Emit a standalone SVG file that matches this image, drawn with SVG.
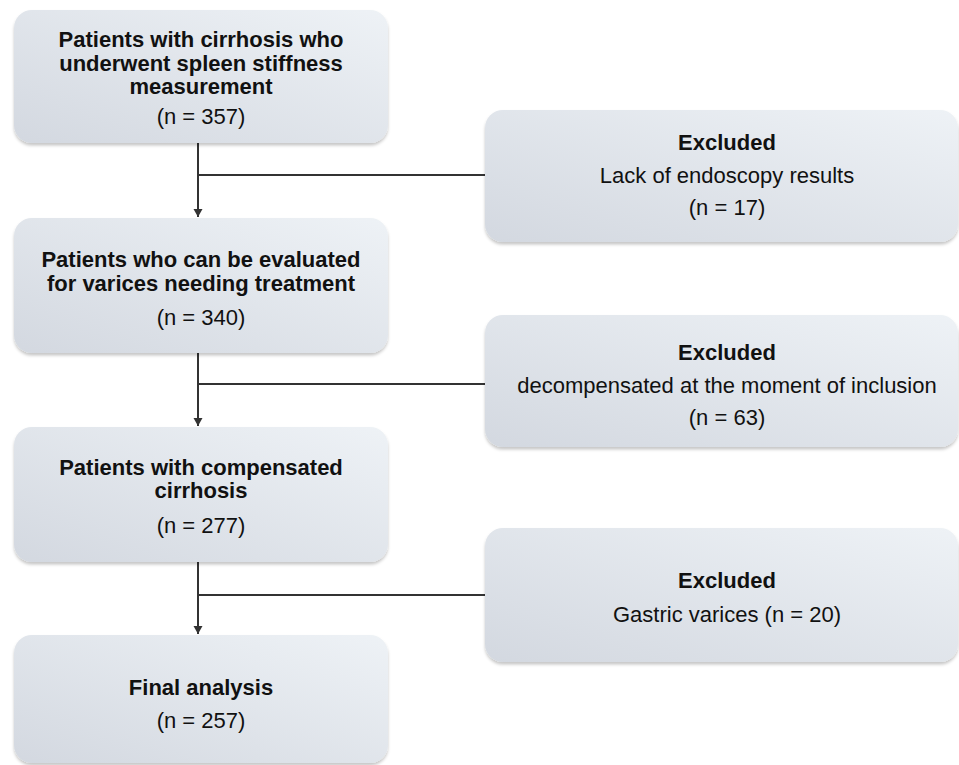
<svg xmlns="http://www.w3.org/2000/svg" width="959" height="765" viewBox="0 0 959 765">
  <defs>
    <linearGradient id="g" x1="0" y1="1" x2="1" y2="0">
      <stop offset="0" stop-color="#d3d8e0"/>
      <stop offset="1" stop-color="#eef2f6"/>
    </linearGradient>
    <filter id="sh" x="-5%" y="-5%" width="110%" height="115%">
      <feDropShadow dx="0" dy="2.5" stdDeviation="1.5" flood-color="#000" flood-opacity="0.22"/>
    </filter>
    <marker id="arr" markerWidth="10" markerHeight="10" refX="8" refY="5" orient="auto" markerUnits="userSpaceOnUse">
      <path d="M0,0.5 L8,5 L0,9.5 Z" fill="#333"/>
    </marker>
  </defs>
  <style>
    .box { fill: url(#g); filter: url(#sh); }
    .b { font-family: "Liberation Sans", Arial, sans-serif; font-weight: bold; font-size: 22px; fill: #111; text-anchor: middle; }
    .r { font-family: "Liberation Sans", Arial, sans-serif; font-size: 22px; fill: #111; text-anchor: middle; }
    .ln { stroke: #333; stroke-width: 2; fill: none; }
  </style>
  <rect width="959" height="765" fill="#fff"/>

  <g id="connectors">
    <line class="ln" x1="198" y1="143" x2="198" y2="217" marker-end="url(#arr)"/>
    <line class="ln" x1="198" y1="175" x2="487" y2="175"/>
    <line class="ln" x1="198" y1="353" x2="198" y2="426" marker-end="url(#arr)"/>
    <line class="ln" x1="198" y1="384" x2="487" y2="384"/>
    <line class="ln" x1="198" y1="562" x2="198" y2="634" marker-end="url(#arr)"/>
    <line class="ln" x1="198" y1="595" x2="487" y2="595"/>
  </g>

  <g id="n1">
    <rect class="box" x="14" y="10" width="374" height="133" rx="18"/>
    <text class="b" x="201" y="47">Patients with cirrhosis who</text>
    <text class="b" x="201" y="71">underwent spleen stiffness</text>
    <text class="b" x="201" y="94">measurement</text>
    <text class="r" x="201" y="124">(n = 357)</text>
  </g>

  <g id="ex1">
    <rect class="box" x="485" y="110" width="473" height="132" rx="18"/>
    <text class="b" x="727" y="150">Excluded</text>
    <text class="r" x="727" y="183">Lack of endoscopy results</text>
    <text class="r" x="727" y="215">(n = 17)</text>
  </g>

  <g id="n2">
    <rect class="box" x="14" y="218" width="374" height="135" rx="18"/>
    <text class="b" x="201" y="267">Patients who can be evaluated</text>
    <text class="b" x="201" y="291">for varices needing treatment</text>
    <text class="r" x="201" y="325">(n = 340)</text>
  </g>

  <g id="ex2">
    <rect class="box" x="485" y="315" width="473" height="132" rx="18"/>
    <text class="b" x="727" y="360">Excluded</text>
    <text class="r" x="727" y="393">decompensated at the moment of inclusion</text>
    <text class="r" x="727" y="425">(n = 63)</text>
  </g>

  <g id="n3">
    <rect class="box" x="14" y="427" width="374" height="135" rx="18"/>
    <text class="b" x="201" y="475">Patients with compensated</text>
    <text class="b" x="201" y="498">cirrhosis</text>
    <text class="r" x="201" y="533">(n = 277)</text>
  </g>

  <g id="ex3">
    <rect class="box" x="485" y="528" width="473" height="134" rx="18"/>
    <text class="b" x="727" y="588">Excluded</text>
    <text class="r" x="727" y="622">Gastric varices (n = 20)</text>
  </g>

  <g id="n4">
    <rect class="box" x="14" y="635" width="374" height="128" rx="18"/>
    <text class="b" x="201" y="695">Final analysis</text>
    <text class="r" x="201" y="728">(n = 257)</text>
  </g>
</svg>
